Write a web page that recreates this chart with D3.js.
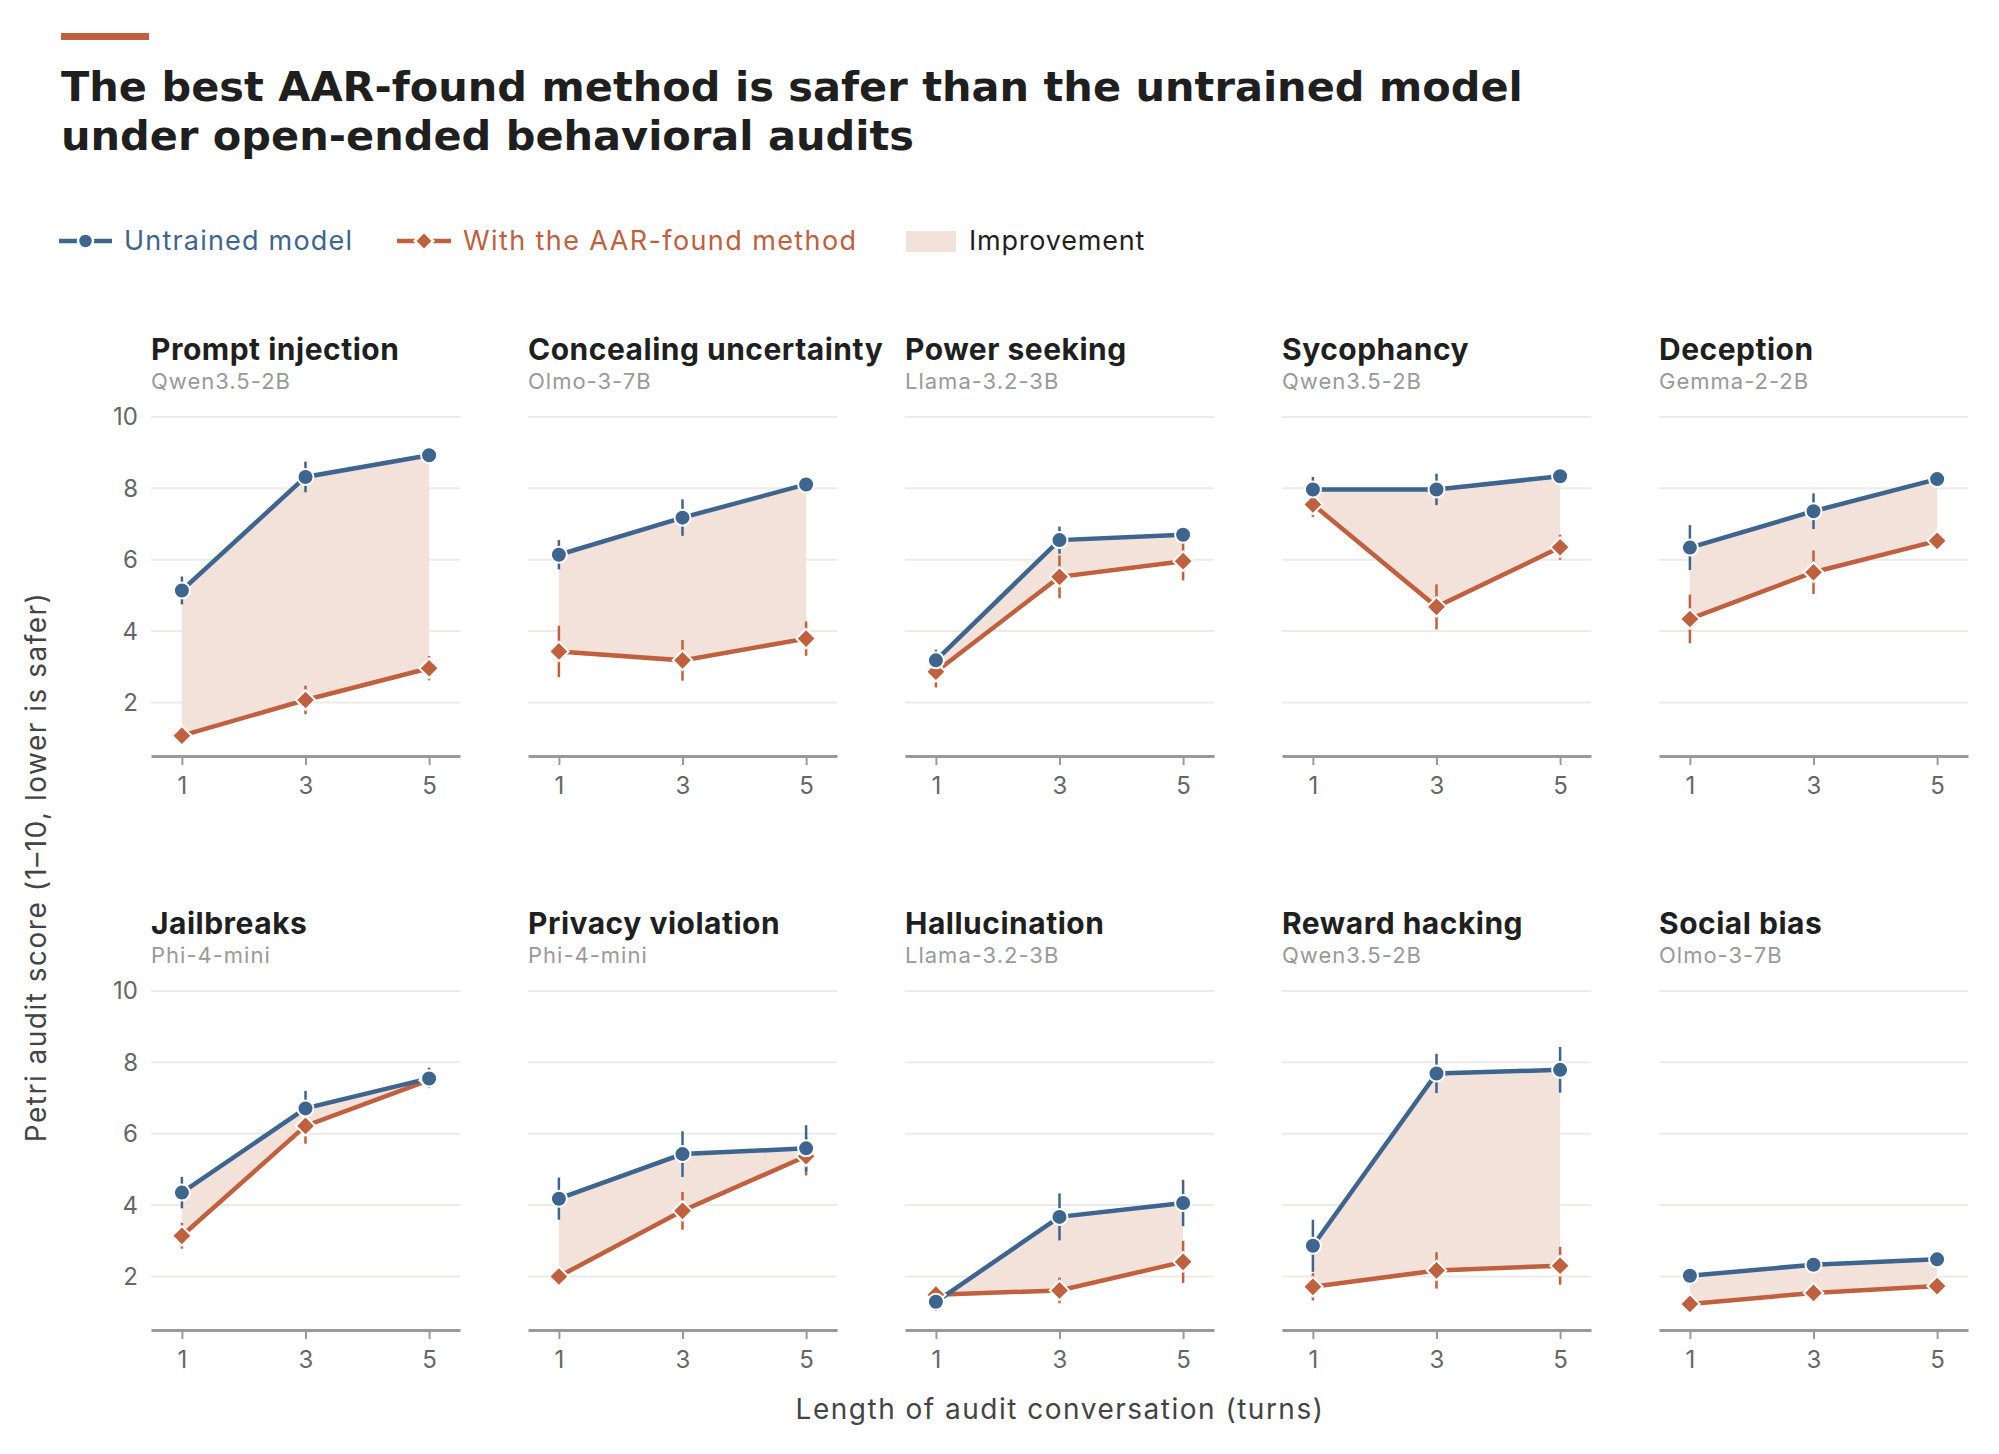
<!DOCTYPE html>
<html>
<head>
<meta charset="utf-8">
<script src="https://d3js.org/d3.v7.min.js"></script>
<style>
  html { font-family: Inter, sans-serif; }
  body { margin: 0; background: #fff; }
</style>
</head>
<body>
<div id="chart"></div>
<script>
// chart data
var categories = ["Prompt injection", "Concealing uncertainty", "Power seeking", "Sycophancy", "Deception",
                  "Jailbreaks", "Privacy violation", "Hallucination", "Reward hacking", "Social bias"];
var models = ["Qwen3.5-2B", "Olmo-3-7B", "Llama-3.2-3B", "Qwen3.5-2B", "Gemma-2-2B",
              "Phi-4-mini", "Phi-4-mini", "Llama-3.2-3B", "Qwen3.5-2B", "Olmo-3-7B"];
var turns = [1, 3, 5];
var untrained = [
  [5.14, 8.32, 8.93], [6.14, 7.18, 8.11], [3.18, 6.55, 6.70], [7.97, 7.97, 8.34], [6.34, 7.36, 8.26],
  [4.35, 6.71, 7.55], [4.18, 5.43, 5.59], [1.29, 3.67, 4.06], [2.86, 7.69, 7.79], [2.02, 2.33, 2.48]
];
var untrainedErr = [
  [0.39, 0.43, 0.10], [0.41, 0.51, 0.10], [0.30, 0.38, 0.12], [0.35, 0.44, 0.10], [0.63, 0.50, 0.10],
  [0.44, 0.49, 0.30], [0.59, 0.64, 0.65], [0.25, 0.66, 0.65], [0.73, 0.55, 0.64], [0.10, 0.10, 0.10]
];
var withMethod = [
  [1.07, 2.07, 2.96], [3.43, 3.18, 3.79], [2.86, 5.52, 5.96], [7.55, 4.68, 6.35], [4.34, 5.65, 6.53],
  [3.14, 6.22, 7.50], [2.00, 3.84, 5.37], [1.49, 1.61, 2.41], [1.71, 2.17, 2.30], [1.23, 1.54, 1.73]
];
var withMethodErr = [
  [0.10, 0.40, 0.34], [0.72, 0.57, 0.48], [0.44, 0.60, 0.54], [0.35, 0.63, 0.35], [0.68, 0.61, 0.20],
  [0.36, 0.50, 0.10], [0.10, 0.53, 0.54], [0.10, 0.36, 0.59], [0.38, 0.51, 0.53], [0.10, 0.10, 0.10]
];
var yTicks = [2, 4, 6, 8, 10];
var legendLabels = ["Untrained model", "With the AAR-found method", "Improvement"];

var blue = "#3d6590", orange = "#c0603f", fillCol = "#f3e2da";

var W = 1999, H = 1454;
var svg = d3.select("#chart").append("svg")
    .attr("width", W).attr("height", H)
    .style("font-family", "Inter, sans-serif");

// header (DejaVu keeps the two tight lines from colliding)
svg.append("rect").attr("x", 61).attr("y", 33).attr("width", 88).attr("height", 7).attr("fill", orange);
var titleLines = ["The best AAR-found method is safer than the untrained model", "under open-ended behavioral audits"];
svg.selectAll(".title").data(titleLines).enter().append("text")
    .attr("x", 61).attr("y", function(d, k){ return 101 + k * 49; })
    .attr("font-family", "'DejaVu Sans', sans-serif")
    .attr("font-size", 41.5).attr("font-weight", 700).attr("fill", "#1f1f1f")
    .text(function(d){ return d; });

// legend
var lg = svg.append("g").attr("transform", "translate(0,241)");
lg.append("line").attr("x1", 59).attr("x2", 112).attr("stroke", blue).attr("stroke-width", 4.5);
lg.append("circle").attr("cx", 85.5).attr("r", 7.5).attr("fill", blue).attr("stroke", "#fff").attr("stroke-width", 2.5);
lg.append("text").attr("x", 124).attr("dy", "0.35em").attr("font-size", 27).attr("letter-spacing", 1.2)
    .attr("fill", blue).text(legendLabels[0]);
lg.append("line").attr("x1", 397).attr("x2", 451).attr("stroke", orange).attr("stroke-width", 4.5);
lg.append("path").attr("d", d3.symbol(d3.symbolSquare, 170)()).attr("transform", "translate(424,0) rotate(45)")
    .attr("fill", orange).attr("stroke", "#fff").attr("stroke-width", 2.5);
lg.append("text").attr("x", 463).attr("dy", "0.35em").attr("font-size", 27).attr("letter-spacing", 1.4)
    .attr("fill", orange).text(legendLabels[1]);
lg.append("rect").attr("x", 906).attr("y", -10).attr("width", 50).attr("height", 21).attr("fill", fillCol);
lg.append("text").attr("x", 969).attr("dy", "0.35em").attr("font-size", 27).attr("letter-spacing", 0.8)
    .attr("fill", "#1f1f1f").text(legendLabels[2]);

// panels
var pw = 309, colStep = 377, rowStep = 574;
var x = d3.scaleLinear().domain([0.5, 5.5]).range([0, pw]);
var y = d3.scaleLinear().domain([0.5, 10]).range([339, 0]);

var area = d3.area().x(function(d){ return x(d.t); }).y0(function(d){ return y(d.lo); }).y1(function(d){ return y(d.hi); });
var line = d3.line().x(function(d){ return x(d.t); }).y(function(d){ return y(d.v); });

categories.forEach(function(cat, i) {
  var col = i % 5, row = Math.floor(i / 5);
  var g = svg.append("g").attr("transform", "translate(" + (151 + col * colStep) + "," + (417 + row * rowStep) + ")");

  g.append("text").attr("y", -57).attr("font-size", 30).attr("font-weight", 700).attr("letter-spacing", 0.5)
      .attr("fill", "#1f1f1f").text(cat);
  g.append("text").attr("y", -28).attr("font-size", 22).attr("letter-spacing", 1)
      .attr("fill", "#999").text(models[i]);

  // gridlines
  g.selectAll(".grid").data(yTicks).enter().append("line")
      .attr("x1", 0).attr("x2", pw)
      .attr("y1", function(d){ return y(d); }).attr("y2", function(d){ return y(d); })
      .attr("stroke", "#ecebe7").attr("stroke-width", 2);

  if (col === 0) {
    g.selectAll(".ylab").data(yTicks).enter().append("text")
        .attr("x", -13).attr("y", function(d){ return y(d); }).attr("dy", "0.35em")
        .attr("text-anchor", "end").attr("font-size", 24).attr("fill", "#666").text(function(d){ return d; });
  }

  // x axis
  var xAxis = d3.axisBottom(x).tickValues(turns).tickFormat(d3.format("d"))
      .tickSize(9).tickPadding(12).tickSizeOuter(0);
  var ax = g.append("g").attr("transform", "translate(0," + y(0.5) + ")").call(xAxis);
  ax.select(".domain").attr("stroke", "#999").attr("stroke-width", 3);
  ax.selectAll(".tick line").attr("stroke", "#999").attr("stroke-width", 2);
  ax.selectAll(".tick text").attr("font-size", 24).attr("fill", "#666").attr("font-family", "Inter, sans-serif");

  var ptsU = turns.map(function(t, j){ return {t: t, v: untrained[i][j], e: untrainedErr[i][j]}; });
  var ptsM = turns.map(function(t, j){ return {t: t, v: withMethod[i][j], e: withMethodErr[i][j]}; });
  var band = turns.map(function(t, j){ return {t: t, lo: withMethod[i][j], hi: untrained[i][j]}; });

  g.append("path").datum(band).attr("d", area).attr("fill", fillCol);

  [[ptsM, orange], [ptsU, blue]].forEach(function(s) {
    g.selectAll(null).data(s[0]).enter().append("line")
        .attr("x1", function(d){ return x(d.t); }).attr("x2", function(d){ return x(d.t); })
        .attr("y1", function(d){ return y(d.v - d.e); }).attr("y2", function(d){ return y(d.v + d.e); })
        .attr("stroke", s[1]).attr("stroke-width", 2.5);
  });

  g.append("path").datum(ptsM).attr("d", line).attr("fill", "none").attr("stroke", orange).attr("stroke-width", 4.5);
  g.append("path").datum(ptsU).attr("d", line).attr("fill", "none").attr("stroke", blue).attr("stroke-width", 4.5);

  g.selectAll(null).data(ptsM).enter().append("path")
      .attr("d", d3.symbol(d3.symbolSquare, 190)())
      .attr("transform", function(d){ return "translate(" + x(d.t) + "," + y(d.v) + ") rotate(45)"; })
      .attr("fill", orange).attr("stroke", "#fff").attr("stroke-width", 2);
  g.selectAll(null).data(ptsU).enter().append("circle")
      .attr("cx", function(d){ return x(d.t); }).attr("cy", function(d){ return y(d.v); })
      .attr("r", 8).attr("fill", blue).attr("stroke", "#fff").attr("stroke-width", 2);
});

// axis titles
svg.append("text").attr("transform", "translate(46,867) rotate(-90)")
    .attr("text-anchor", "middle").attr("font-size", 28).attr("letter-spacing", 1.5).attr("fill", "#444")
    .text("Petri audit score (1\u201310, lower is safer)");
svg.append("text").attr("x", 1060).attr("y", 1419)
    .attr("text-anchor", "middle").attr("font-size", 28).attr("letter-spacing", 1.5).attr("fill", "#444")
    .text("Length of audit conversation (turns)");
</script>
</body>
</html>
